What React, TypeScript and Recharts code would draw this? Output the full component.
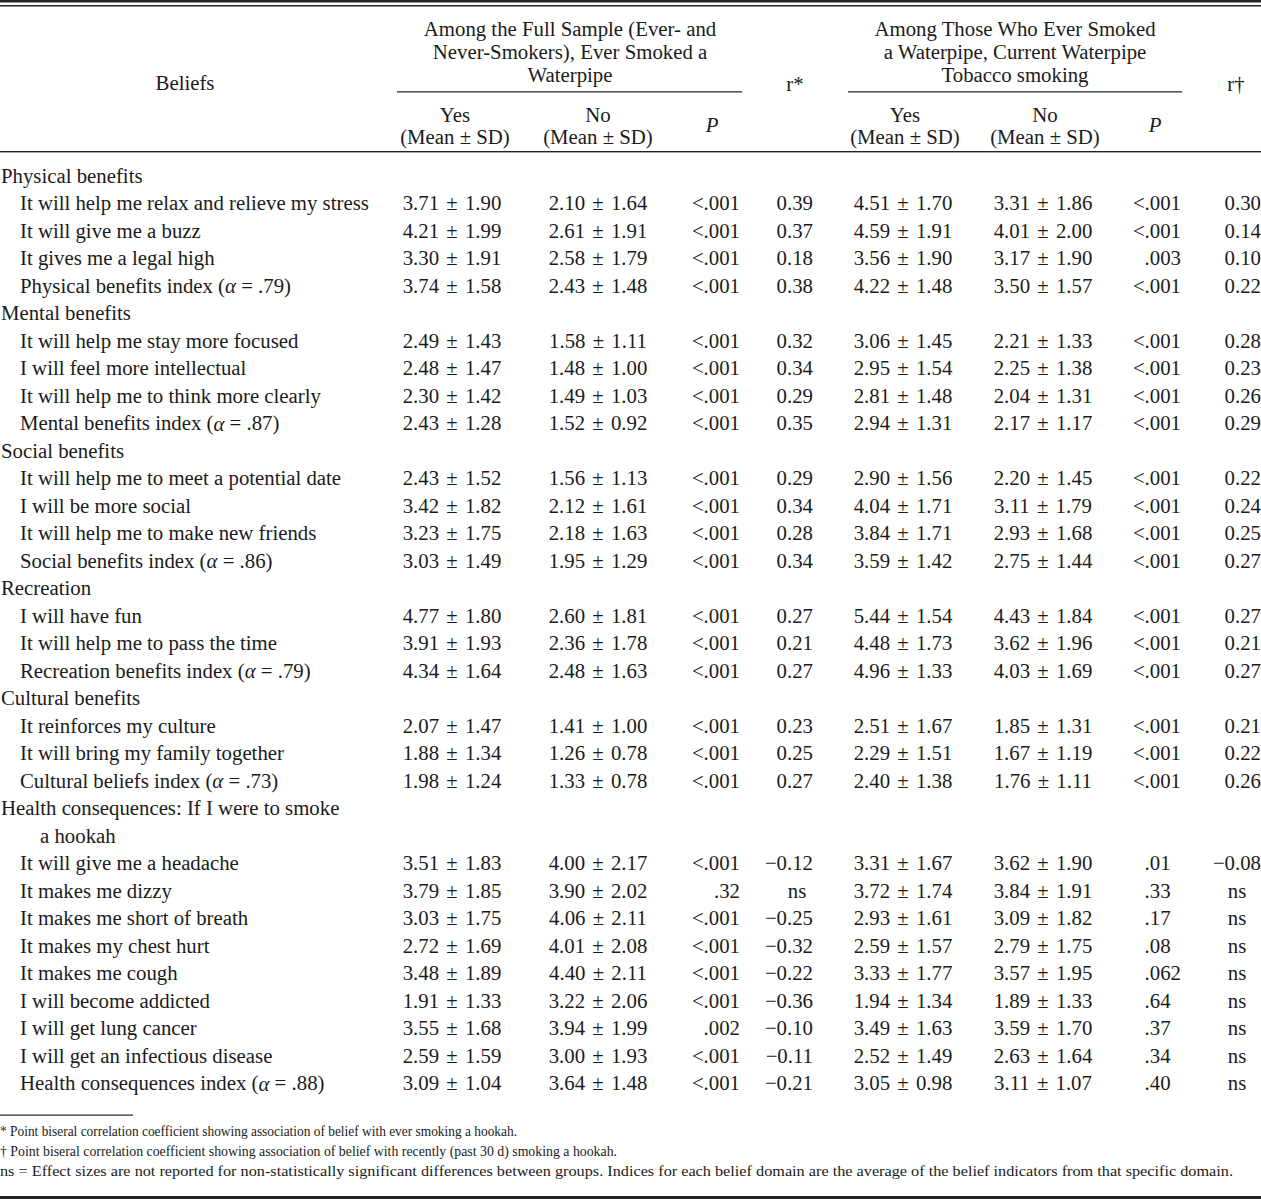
import React from "react";
import { ScatterChart, Scatter, XAxis, YAxis, Customized } from "recharts";

// table rows: 0 = domain heading, 1 = belief item, 2 = wrapped heading line
const rowLabels = [
  "Physical benefits",
  "It will help me relax and relieve my stress",
  "It will give me a buzz",
  "It gives me a legal high",
  "Physical benefits index (α = .79)",
  "Mental benefits",
  "It will help me stay more focused",
  "I will feel more intellectual",
  "It will help me to think more clearly",
  "Mental benefits index (α = .87)",
  "Social benefits",
  "It will help me to meet a potential date",
  "I will be more social",
  "It will help me to make new friends",
  "Social benefits index (α = .86)",
  "Recreation",
  "I will have fun",
  "It will help me to pass the time",
  "Recreation benefits index (α = .79)",
  "Cultural benefits",
  "It reinforces my culture",
  "It will bring my family together",
  "Cultural beliefs index (α = .73)",
  "Health consequences: If I were to smoke",
  "a hookah",
  "It will give me a headache",
  "It makes me dizzy",
  "It makes me short of breath",
  "It makes my chest hurt",
  "It makes me cough",
  "I will become addicted",
  "I will get lung cancer",
  "I will get an infectious disease",
  "Health consequences index (α = .88)",
];
const rowLevel = [
  0, 1, 1, 1, 1, 0, 1, 1, 1, 1, 0, 1, 1, 1, 1, 0, 1, 1, 1, 0, 1, 1, 1, 0, 2,
  1, 1, 1, 1, 1, 1, 1, 1, 1,
];

// values for item rows only (in row order)
const everYesMean = [3.71, 4.21, 3.3, 3.74, 2.49, 2.48, 2.3, 2.43, 2.43, 3.42, 3.23, 3.03, 4.77, 3.91, 4.34, 2.07, 1.88, 1.98, 3.51, 3.79, 3.03, 2.72, 3.48, 1.91, 3.55, 2.59, 3.09];
const everYesSd = [1.9, 1.99, 1.91, 1.58, 1.43, 1.47, 1.42, 1.28, 1.52, 1.82, 1.75, 1.49, 1.8, 1.93, 1.64, 1.47, 1.34, 1.24, 1.83, 1.85, 1.75, 1.69, 1.89, 1.33, 1.68, 1.59, 1.04];
const everNoMean = [2.1, 2.61, 2.58, 2.43, 1.58, 1.48, 1.49, 1.52, 1.56, 2.12, 2.18, 1.95, 2.6, 2.36, 2.48, 1.41, 1.26, 1.33, 4.0, 3.9, 4.06, 4.01, 4.4, 3.22, 3.94, 3.0, 3.64];
const everNoSd = [1.64, 1.91, 1.79, 1.48, 1.11, 1.0, 1.03, 0.92, 1.13, 1.61, 1.63, 1.29, 1.81, 1.78, 1.63, 1.0, 0.78, 0.78, 2.17, 2.02, 2.11, 2.08, 2.11, 2.06, 1.99, 1.93, 1.48];
const everP = ["<.001", "<.001", "<.001", "<.001", "<.001", "<.001", "<.001", "<.001", "<.001", "<.001", "<.001", "<.001", "<.001", "<.001", "<.001", "<.001", "<.001", "<.001", "<.001", ".32", "<.001", "<.001", "<.001", "<.001", ".002", "<.001", "<.001"];
const everR = [0.39, 0.37, 0.18, 0.38, 0.32, 0.34, 0.29, 0.35, 0.29, 0.34, 0.28, 0.34, 0.27, 0.21, 0.27, 0.23, 0.25, 0.27, -0.12, null, -0.25, -0.32, -0.22, -0.36, -0.1, -0.11, -0.21];

const curYesMean = [4.51, 4.59, 3.56, 4.22, 3.06, 2.95, 2.81, 2.94, 2.9, 4.04, 3.84, 3.59, 5.44, 4.48, 4.96, 2.51, 2.29, 2.4, 3.31, 3.72, 2.93, 2.59, 3.33, 1.94, 3.49, 2.52, 3.05];
const curYesSd = [1.7, 1.91, 1.9, 1.48, 1.45, 1.54, 1.48, 1.31, 1.56, 1.71, 1.71, 1.42, 1.54, 1.73, 1.33, 1.67, 1.51, 1.38, 1.67, 1.74, 1.61, 1.57, 1.77, 1.34, 1.63, 1.49, 0.98];
const curNoMean = [3.31, 4.01, 3.17, 3.5, 2.21, 2.25, 2.04, 2.17, 2.2, 3.11, 2.93, 2.75, 4.43, 3.62, 4.03, 1.85, 1.67, 1.76, 3.62, 3.84, 3.09, 2.79, 3.57, 1.89, 3.59, 2.63, 3.11];
const curNoSd = [1.86, 2.0, 1.9, 1.57, 1.33, 1.38, 1.31, 1.17, 1.45, 1.79, 1.68, 1.44, 1.84, 1.96, 1.69, 1.31, 1.19, 1.11, 1.9, 1.91, 1.82, 1.75, 1.95, 1.33, 1.7, 1.64, 1.07];
const curP = ["<.001", "<.001", ".003", "<.001", "<.001", "<.001", "<.001", "<.001", "<.001", "<.001", "<.001", "<.001", "<.001", "<.001", "<.001", "<.001", "<.001", "<.001", ".01", ".33", ".17", ".08", ".062", ".64", ".37", ".34", ".40"];
const curR = [0.3, 0.14, 0.1, 0.22, 0.28, 0.23, 0.26, 0.29, 0.22, 0.24, 0.25, 0.27, 0.27, 0.21, 0.27, 0.21, 0.22, 0.26, -0.08, null, null, null, null, null, null, null, null];

const groupFull = ["Among the Full Sample (Ever- and", "Never-Smokers), Ever Smoked a", "Waterpipe"];
const groupCurrent = ["Among Those Who Ever Smoked", "a Waterpipe, Current Waterpipe", "Tobacco smoking"];
const footnotes = [
  "* Point biseral correlation coefficient showing association of belief with ever smoking a hookah.",
  "† Point biseral correlation coefficient showing association of belief with recently (past 30 d) smoking a hookah.",
  "ns = Effect sizes are not reported for non-statistically significant differences between groups. Indices for each belief domain are the average of the belief indicators from that specific domain.",
];

const W = 1261;
const H = 1199;
const ROW0 = 175;
const PITCH = 27.5;
const FS = 20.8;
const FONT = "'Liberation Serif', 'Times New Roman', serif";
const INK = "#1b1b1b";

const fmtMs = (m: number, s: number) => `${m.toFixed(2)} ± ${s.toFixed(2)}`;
const fmtR = (r: number | null) =>
  r === null ? "ns" : (r < 0 ? "\u2212" : "") + Math.abs(r).toFixed(2);

const itemRows = rowLevel.map((l, i) => (l === 1 ? i : -1)).filter((i) => i >= 0);

type Cell = { x: number; row: number; text: string; anchor: string; dx?: number; ws?: number };

const labelData: Cell[] = rowLabels.map((t, i) => ({
  x: rowLevel[i] === 0 ? 1 : rowLevel[i] === 1 ? 20 : 40,
  row: i,
  text: t,
  anchor: "start",
}));

const textCol = (texts: string[], x: number, anchor: string, ws = 0): Cell[] =>
  texts.map((t, k) => ({ x, row: itemRows[k], text: t, anchor, ws }));

const rCol = (vals: (number | null)[], x: number, nsX: number): Cell[] =>
  vals.map((v, k) =>
    v === null
      ? { x: nsX, row: itemRows[k], text: "ns", anchor: "middle" }
      : { x, row: itemRows[k], text: fmtR(v), anchor: "end" }
  );

const decimalCol = (texts: string[], x: number): Cell[] =>
  texts.map((t, k) => ({
    x,
    row: itemRows[k],
    text: t,
    anchor: "end",
    dx: -(3 - t.split(".")[1].length) * FS * 0.5,
  }));

const columns: Cell[][] = [
  labelData,
  textCol(everYesMean.map((m, k) => fmtMs(m, everYesSd[k])), 452, "middle", 2),
  textCol(everNoMean.map((m, k) => fmtMs(m, everNoSd[k])), 598, "middle", 2),
  textCol(everP, 740, "end"),
  rCol(everR, 813, 797),
  textCol(curYesMean.map((m, k) => fmtMs(m, curYesSd[k])), 903, "middle", 2),
  textCol(curNoMean.map((m, k) => fmtMs(m, curNoSd[k])), 1043, "middle", 2),
  decimalCol(curP, 1181),
  rCol(curR, 1261, 1237),
];

const renderText = (text: string) => {
  const parts = text.split("α");
  if (parts.length === 1) return text;
  return (
    <>
      {parts[0]}
      <tspan fontStyle="italic">α</tspan>
      {parts[1]}
    </>
  );
};

const CellText = (props: any) => {
  const { cx, cy, payload } = props;
  return (
    <text
      x={cx + (payload.dx || 0)}
      y={cy}
      textAnchor={payload.anchor}
      dominantBaseline="central"
      fontFamily={FONT}
      fontSize={FS}
      fill={INK}
      style={{ wordSpacing: payload.ws || 0 }}
    >
      {renderText(payload.text)}
    </text>
  );
};

const T = ({ x, y, children, anchor = "middle", italic = false, size = FS, len }: any) => (
  <text
    x={x}
    y={y}
    textAnchor={anchor}
    dominantBaseline="central"
    fontFamily={FONT}
    fontSize={size}
    fontStyle={italic ? "italic" : "normal"}
    fill={INK}
    textLength={len}
    lengthAdjust={len ? "spacingAndGlyphs" : undefined}
  >
    {children}
  </text>
);

const Frame = () => (
  <g>
    <rect x={0} y={0} width={W} height={2.5} fill="#222" />
    <rect x={0} y={5} width={W} height={1.5} fill="#222" />
    <rect x={397} y={91} width={345} height={1.6} fill="#555" />
    <rect x={848} y={91} width={334} height={1.6} fill="#555" />
    <rect x={0} y={151} width={W} height={1.4} fill="#222" />
    <rect x={0} y={1114.5} width={133} height={1.2} fill="#222" />
    <rect x={0} y={1196} width={W} height={3} fill="#222" />

    <T x={185} y={82}>Beliefs</T>
    {groupFull.map((t, i) => (
      <T key={t} x={570} y={28 + i * 23.3}>{t}</T>
    ))}
    {groupCurrent.map((t, i) => (
      <T key={t} x={1015} y={28 + i * 23.3}>{t}</T>
    ))}
    <T x={795} y={83}>r*</T>
    <T x={1236} y={83}>r†</T>
    {[455, 905].map((x) => (
      <g key={"y" + x}>
        <T x={x} y={114}>Yes</T>
        <T x={x} y={136.5}>(Mean ± SD)</T>
      </g>
    ))}
    {[598, 1045].map((x) => (
      <g key={"n" + x}>
        <T x={x} y={114}>No</T>
        <T x={x} y={136.5}>(Mean ± SD)</T>
      </g>
    ))}
    <T x={712} y={124} italic>P</T>
    <T x={1155} y={124} italic>P</T>

    {footnotes.map((t, i) => (
      <T key={i} x={0} y={1131 + i * 19.8} anchor="start" size={14.5} len={[517, 617, 1233][i]}>
        {t}
      </T>
    ))}
  </g>
);

export default function App() {
  const yMin = -ROW0 / PITCH;
  const yMax = (H - ROW0) / PITCH;
  return (
    <div style={{ width: W, height: H, background: "#fff" }}>
      <style>{"body{margin:0}"}</style>
      <ScatterChart width={W} height={H} margin={{ top: 0, right: 0, bottom: 0, left: 0 }}>
        <XAxis type="number" dataKey="x" domain={[0, W]} allowDataOverflow hide />
        <YAxis type="number" dataKey="row" domain={[yMin, yMax]} allowDataOverflow reversed hide />
        <Customized component={Frame} />
        {columns.map((data, i) => (
          <Scatter
            key={i}
            data={data}
            isAnimationActive={false}
            shape={(p: any) => <CellText {...p} />}
          />
        ))}
      </ScatterChart>
    </div>
  );
}
